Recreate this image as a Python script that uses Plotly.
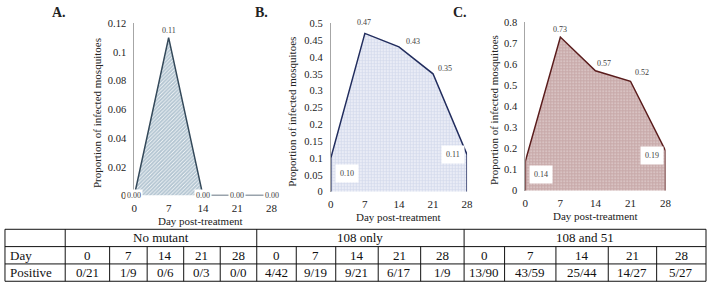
import plotly.graph_objects as go

# ---------------- data ----------------
days = [0, 7, 14, 21, 28]
prop_no_mutant = [0.00, 0.11, 0.00, 0.00, 0.00]
prop_108_only = [0.10, 0.47, 0.43, 0.35, 0.11]
prop_108_51 = [0.14, 0.73, 0.57, 0.52, 0.19]

yticks_A = [0, 0.02, 0.04, 0.06, 0.08, 0.1, 0.12]
yticks_B = [0, 0.05, 0.1, 0.15, 0.2, 0.25, 0.3, 0.35, 0.4, 0.45, 0.5]
yticks_C = [0, 0.1, 0.2, 0.3, 0.4, 0.5, 0.6, 0.7, 0.8]

groups = ["No mutant", "108 only", "108 and 51"]
pos_no_mutant = ["0/21", "1/9", "0/6", "0/3", "0/0"]
pos_108_only = ["4/42", "9/19", "9/21", "6/17", "1/9"]
pos_108_51 = ["13/90", "43/59", "25/44", "14/27", "5/27"]

panel_labels = ["A.", "B.", "C."]
y_title = "Proportion of infected mosquitoes"
x_title = "Day post-treatment"

# ---------------- layout helpers ----------------
W, H = 713, 294
FONT = "Liberation Serif, Times New Roman, serif"


def fx(px):
    return px / W


def fy(py):
    return 1 - py / H


def fmt(v):
    return "%g" % v


fig = go.Figure()

panels = [
    dict(vals=prop_no_mutant, ticks=yticks_A, ymax=0.12, x0=133, x1=272, ytop=19, ybot=198,
         line="#34495a", fg="#668aa3", shape="/", solidity=0.72, size=2.6,
         label_x=57, ytitle_x=95, xtitle_y=224, xtitle_x=200),
    dict(vals=prop_108_only, ticks=yticks_B, ymax=0.5, x0=332, x1=470, ytop=19, ybot=194,
         line="#222d5e", fg="#a9b6da", shape=".", solidity=0.72, size=3,
         label_x=262, ytitle_x=293, xtitle_y=220, xtitle_x=401),
    dict(vals=prop_108_51, ticks=yticks_C, ymax=0.8, x0=529, x1=671, ytop=18, ybot=193,
         line="#5a1c1c", fg="#8f5252", shape=".", solidity=0.8, size=3,
         label_x=463, ytitle_x=498, xtitle_y=219, xtitle_x=600),
]

annotations = []


def pa(text, x, y, font, xanchor="center", yanchor="middle", **kw):
    annotations.append(dict(text=text, xref="paper", yref="paper", x=x, y=y,
                            xanchor=xanchor, yanchor=yanchor, showarrow=False,
                            font=font, **kw))


for i, p in enumerate(panels):
    n = "" if i == 0 else str(i + 1)
    xs = [days[0]] + days + [days[-1]]
    ys = [0] + p["vals"] + [0]
    fig.add_trace(go.Scatter(
        x=xs, y=ys, mode="lines", fill="toself",
        line=dict(color=p["line"], width=1.5),
        fillcolor="white",
        fillpattern=dict(shape=p["shape"], fgcolor=p["fg"], bgcolor="white",
                         size=p["size"], solidity=p["solidity"]),
        cliponaxis=False, hoverinfo="skip", showlegend=False,
        xaxis="x" + n, yaxis="y" + n,
    ))
    fig.update_layout(**{
        "xaxis" + n: dict(domain=[fx(p["x0"]), fx(p["x1"])], range=[0, 28],
                          tickvals=days, ticktext=[str(d) for d in days],
                          showgrid=False, zeroline=False, showline=False,
                          ticks="outside", ticklen=2, tickcolor="rgba(0,0,0,0)",
                          tickfont=dict(family=FONT, size=11, color="#222"),
                          anchor="y" + n, fixedrange=True),
        "yaxis" + n: dict(domain=[fy(p["ybot"]), fy(p["ytop"])], range=[0, p["ymax"]],
                          tickvals=p["ticks"], ticktext=[fmt(t) for t in p["ticks"]],
                          showgrid=False, zeroline=False, showline=True,
                          linecolor="#a6a6a6", linewidth=1,
                          ticks="outside", ticklen=5, tickcolor="rgba(0,0,0,0)",
                          tickfont=dict(family=FONT, size=10.5, color="#222"),
                          anchor="x" + n, fixedrange=True),
    })
    pa("<b>%s</b>" % panel_labels[i], fx(p["label_x"]), fy(8),
       dict(family=FONT, size=14, color="#222"))
    pa(y_title, fx(p["ytitle_x"]), fy((p["ytop"] + p["ybot"]) / 2 + 4),
       dict(family=FONT, size=11, color="#222"), textangle=-90)
    pa(x_title, fx(p["xtitle_x"]), fy(p["xtitle_y"]),
       dict(family=FONT, size=11, color="#222"))

# data labels
lab = dict(showarrow=False, font=dict(family=FONT, size=8, color="#404040"))


def da(text, x, y, n, xanchor="center", yanchor="middle", **kw):
    annotations.append(dict(text=text, x=x, y=y, xref="x" + n, yref="y" + n,
                            xanchor=xanchor, yanchor=yanchor, **lab, **kw))


# A
for d, v in zip(days, prop_no_mutant):
    if v == 0:
        da("%.2f" % v, d, v, "", bgcolor="white", borderpad=1)
    else:
        da("%.2f" % v, d, v, "", yshift=7)
# B
b = prop_108_only
da("%.2f" % b[0], days[0], b[0], "2", xanchor="left", yanchor="top", xshift=4, yshift=-6,
   bgcolor="white", borderpad=4)
da("%.2f" % b[1], days[1], b[1], "2", yshift=11, xshift=-1)
da("%.2f" % b[2], days[2], b[2], "2", yshift=5, xshift=14)
da("%.2f" % b[3], days[3], b[3], "2", yshift=5, xshift=12)
da("%.2f" % b[4], days[4], b[4], "2", xanchor="right", xshift=-2, bgcolor="white", borderpad=4)
# C
c = prop_108_51
da("%.2f" % c[0], days[0], c[0], "3", xanchor="left", yanchor="top", xshift=4, yshift=-4,
   bgcolor="white", borderpad=4)
da("%.2f" % c[1], days[1], c[1], "3", yshift=8)
da("%.2f" % c[2], days[2], c[2], "3", yshift=7, xshift=9)
da("%.2f" % c[3], days[3], c[3], "3", yshift=9, xshift=12)
da("%.2f" % c[4], days[4], c[4], "3", xanchor="right", xshift=-2, yshift=-5,
   bgcolor="white", borderpad=4)

# ---------------- table ----------------
shapes = []
T_TOP, R1, R2, T_BOT = 233, 251, 269, 287
LEFT, RIGHT = 2, 712
group_edges = [63, 257, 467, 712]
cell_edges = [
    [63, 108, 146, 183, 220, 257],
    [257, 297, 337, 380, 423, 467],
    [467, 508, 560, 613, 662, 712],
]


def hline(y, x0, x1):
    shapes.append(dict(type="line", xref="paper", yref="paper", x0=fx(x0), x1=fx(x1),
                       y0=fy(y), y1=fy(y), line=dict(color="#111", width=1)))


def vline(x, y0, y1):
    shapes.append(dict(type="line", xref="paper", yref="paper", x0=fx(x), x1=fx(x),
                       y0=fy(y0), y1=fy(y1), line=dict(color="#111", width=1)))


for y in [T_TOP, R1, R2, T_BOT]:
    hline(y, LEFT, RIGHT)
for x in [LEFT] + group_edges:
    vline(x, T_TOP, T_BOT)
for edges in cell_edges:
    for x in edges[1:-1]:
        vline(x, R1, T_BOT)

tfont = dict(family=FONT, size=13, color="#111")
pa("Day", fx(5), fy((R1 + R2) / 2), tfont, xanchor="left")
pa("Positive", fx(5), fy((R2 + T_BOT) / 2), tfont, xanchor="left")
for g, name in enumerate(groups):
    pa(name, fx((group_edges[g] + group_edges[g + 1]) / 2), fy((T_TOP + R1) / 2), tfont)
for edges, pos in zip(cell_edges, [pos_no_mutant, pos_108_only, pos_108_51]):
    for k in range(5):
        cx = fx((edges[k] + edges[k + 1]) / 2)
        pa(str(days[k]), cx, fy((R1 + R2) / 2), tfont)
        pa(pos[k], cx, fy((R2 + T_BOT) / 2), tfont)

fig.update_layout(
    width=W, height=H, margin=dict(l=0, r=0, t=0, b=0),
    paper_bgcolor="white", plot_bgcolor="rgba(0,0,0,0)",
    annotations=annotations, shapes=shapes, showlegend=False,
)

fig.write_html(
    "out.html",
    config={"displayModeBar": False},
    post_script="document.body.style.margin='0px';"
                "document.documentElement.style.overflow='hidden';",
)
